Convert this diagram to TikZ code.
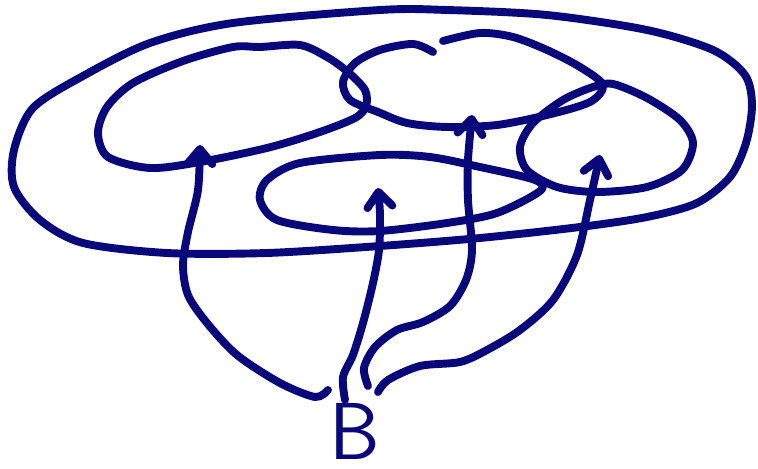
\documentclass[tikz,border=0pt]{standalone}
\usepackage{tikz}
\usetikzlibrary{arrows.meta, calc}
\definecolor{inkblue}{RGB}{8,8,122}
\tikzset{
    pen/.style={draw=inkblue, line width=4.5pt, line cap=round, line join=round},
    penarrow/.style={pen, -{Straight Barb[round, length=0.3cm, width=0.5cm]}},
}

\begin{document}
\begin{tikzpicture}[x=0.02cm, y=-0.02cm]
    \useasboundingbox (0,0) rectangle (758,469);

    % Outer loop
    \draw[pen] plot[smooth cycle] coordinates {
        (380,10) (447,10) (547,15) (647,30) (713,50) (745,75) (752,105)
        (746,143) (730,177) (697,203) (647,217) (580,227) (480,238)
        (380,246) (267,253) (167,253) (83,243) (40,220) (14,187)
        (14,150) (33,108) (83,76) (150,43) (233,23)};

    % Left loop
    \draw[pen] plot[smooth cycle] coordinates {
        (260,47) (300,45) (327,57) (348,72) (365,90) (366,106) (355,118)
        (317,133) (267,148) (200,162) (150,168) (108,157) (98,133)
        (107,107) (133,83) (183,61) (233,47)};

    % Middle loop (with a gap at the top)
    \draw[pen] plot[smooth] coordinates {
        (443,41) (480,33) (513,37) (547,50) (580,67) (603,85) (590,102)
        (547,115) (497,125) (447,127) (407,123) (378,112) (350,100)
        (343,82) (355,63) (380,50) (413,44) (433,52)};

    % Right loop
    \draw[pen] plot[smooth cycle] coordinates {
        (613,84) (647,98) (680,120) (693,143) (682,170) (647,187)
        (597,192) (557,187) (527,170) (520,147) (533,123) (563,100)
        (593,87)};

    % Inner loop
    \draw[pen] plot[smooth cycle] coordinates {
        (380,155) (430,157) (480,167) (535,180) (540,191) (497,213)
        (447,223) (380,231) (333,230) (277,220) (260,200) (267,180)
        (300,163)};

    % Letter and arrows
    \node[text=inkblue, font=\sffamily\fontsize{46}{48}\selectfont,
          inner sep=0pt] (B) at (355,431) {B};

    \coordinate (s1) at ($(B)+(-27,-41)$);
    \coordinate (s2) at ($(B)+(-10,-31)$);
    \coordinate (s3) at ($(B)+(13,-45)$);
    \coordinate (s4) at ($(B)+(23,-39)$);
    \coordinate (t1) at (200,145);
    \coordinate (t2) at (378,188);
    \coordinate (t3) at (472,115);
    \coordinate (t4) at (600,155);

    \draw[penarrow] plot[smooth] coordinates {
        (s1) (315,397) (280,383) (237,355) (207,323) (188,295) (183,265)
        (188,232) (198,190) (t1)};
    \draw[penarrow] plot[smooth] coordinates {
        (s2) (343,377) (353,355) (363,323) (373,283) (379,250) (380,215)
        (t2)};
    \draw[penarrow] plot[smooth] coordinates {
        (s3) (364,368) (375,347) (397,330) (423,322) (450,306) (466,280)
        (472,250) (468,200) (468,160) (t3)};
    \draw[penarrow] plot[smooth] coordinates {
        (s4) (388,380) (420,366) (460,362) (487,350) (520,330) (553,300)
        (577,255) (590,200) (t4)};
\end{tikzpicture}
\end{document}
